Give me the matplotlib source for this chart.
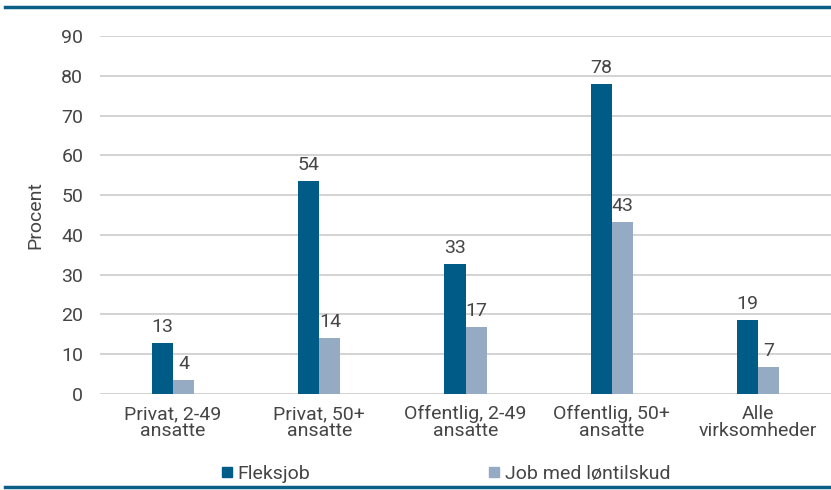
import matplotlib
matplotlib.use("Agg")
import matplotlib.pyplot as plt
from matplotlib.lines import Line2D
import numpy as np

kategorier = ["Privat, 2-49\nansatte", "Privat, 50+\nansatte", "Offentlig, 2-49\nansatte",
              "Offentlig, 50+\nansatte", "Alle\nvirksomheder"]
fleksjob = [12.8, 53.5, 32.6, 78.0, 18.6]
loentilskud = [3.6, 14.1, 16.8, 43.2, 6.7]

moerk = "#005b87"
lys = "#95abc3"
tekst = "#454545"

plt.rcParams["font.family"] = ["Roboto", "DejaVu Sans"]
plt.rcParams["font.size"] = 14
plt.rcParams["text.color"] = tekst

fig = plt.figure(figsize=(8.31, 4.90), dpi=100)
ax = fig.add_axes([100 / 831, 1 - 394 / 490, 731 / 831, 358 / 490])

x = np.arange(len(kategorier))
b = 0.145
s1 = ax.bar(x - b / 2, fleksjob, b, color=moerk, label="Fleksjob", zorder=3)
s2 = ax.bar(x + b / 2, loentilskud, b, color=lys, label="Job med løntilskud", zorder=3)

for rects, vals in [(s1, fleksjob), (s2, loentilskud)]:
    for r, v in zip(rects, vals):
        ax.annotate(f"{v:.0f}", (r.get_x() + r.get_width() / 2, v), xytext=(0, 5),
                    textcoords="offset points", ha="center", va="bottom", color=tekst)

ax.set_xlim(-0.5, len(kategorier) - 0.5)
ax.set_ylim(0, 90)
ax.set_yticks(range(0, 91, 10))
ax.set_xticks(x)
ax.set_xticklabels(kategorier, linespacing=0.9)
ax.grid(axis="y", color="#d0d0d0", linewidth=1.3, zorder=0)
ax.tick_params(axis="both", length=0, colors=tekst)
ax.tick_params(axis="y", pad=12)
ax.tick_params(axis="x", pad=8)
for sp in ax.spines.values():
    sp.set_visible(False)
ax.set_ylabel("Procent", color=tekst, labelpad=12)

h = [Line2D([], [], marker="s", linestyle="", markersize=7, color=c) for c in (moerk, lys)]
fig.legend(h, ["Fleksjob", "Job med løntilskud"], ncol=2, frameon=False,
           loc="center", bbox_to_anchor=(446 / 831, 1 - 474 / 490),
           handlelength=0.5, handletextpad=0.3, columnspacing=9.2)

# streger øverst og nederst
fig.add_artist(Line2D([5 / 831, 1], [1 - 7 / 490] * 2, color="#0a5f87", linewidth=2.5))
fig.add_artist(Line2D([5 / 831, 1], [1 - 487 / 490] * 2, color="#0a5f87", linewidth=2.5))

fig.savefig("out.png", dpi=100)
